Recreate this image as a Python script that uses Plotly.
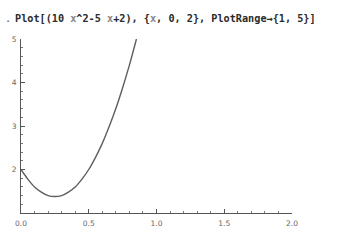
import plotly.graph_objects as go

# values
x_vals = [0.0, 0.05, 0.1, 0.15, 0.2, 0.25, 0.3, 0.35, 0.4, 0.45, 0.5, 0.55, 0.6, 0.65, 0.7, 0.75, 0.8, 0.852]
y_vals = [2.0, 1.78, 1.6, 1.48, 1.4, 1.38, 1.4, 1.48, 1.6, 1.78, 2.0, 2.28, 2.6, 2.98, 3.4, 3.88, 4.4, 5.0]

x_ticks = [0.0, 0.5, 1.0, 1.5, 2.0]
x_tick_labels = ["0.0", "0.5", "1.0", "1.5", "2.0"]
y_ticks = [2, 3, 4, 5]
y_tick_labels = ["2", "3", "4", "5"]

xv = "<span style='color:#888888'>x</span>"
title_text = f"Plot[(10 {xv}^2-5 {xv}+2), {{{xv}, 0, 2}}, PlotRange\u2192{{1, 5}}]"

fig = go.Figure()
fig.add_trace(go.Scatter(x=x_vals, y=y_vals, mode="lines",
                         line=dict(color="#5e5e5e", width=1.4, shape="spline"),
                         hoverinfo="skip"))

L, R, T, B = 14, 68, 39, 23
PW, PH = 360 - L - R, 240 - T - B
fig.update_layout(
    width=360, height=240,
    margin=dict(l=L, r=R, t=T, b=B, pad=0),
    paper_bgcolor="white", plot_bgcolor="white",
    showlegend=False,
    xaxis=dict(range=[0, 2], showgrid=False, zeroline=False,
               showline=True, linecolor="#555555", linewidth=1,
               ticks="inside", ticklen=4, tickcolor="#555555", tickwidth=1,
               tickvals=x_ticks, ticktext=x_tick_labels, ticklabelstandoff=3,
               tickfont=dict(family="DejaVu Sans", size=7.5, color="#666666"),
               minor=dict(ticks="inside", ticklen=2, dtick=0.1, tickcolor="#777777", showgrid=False),
               fixedrange=True),
    yaxis=dict(range=[1, 5], showgrid=False, zeroline=False,
               showline=True, linecolor="#555555", linewidth=1,
               ticks="inside", ticklen=4, tickcolor="#555555", tickwidth=1,
               tickvals=y_ticks, ticktext=y_tick_labels, ticklabelstandoff=2,
               tickfont=dict(family="DejaVu Sans", size=7.5, color="#666666"),
               minor=dict(ticks="inside", ticklen=2, dtick=0.2, tickcolor="#777777", showgrid=False),
               fixedrange=True),
)

fig.add_annotation(text=title_text, xref="paper", yref="paper",
                   x=(6 - L) / PW, y=(240 - B - 18.5) / PH,
                   xanchor="left", yanchor="middle", showarrow=False,
                   font=dict(family="DejaVu Sans Mono", size=10.2, color="#2a2a2a", weight="bold"))
fig.add_annotation(text=".", xref="paper", yref="paper",
                   x=(-4 - L) / PW, y=(240 - B - 18.5) / PH,
                   xanchor="left", yanchor="middle", showarrow=False,
                   font=dict(family="DejaVu Sans Mono", size=10.2, color="#555555"))

fig.write_html("out.html", config={"displayModeBar": False})
